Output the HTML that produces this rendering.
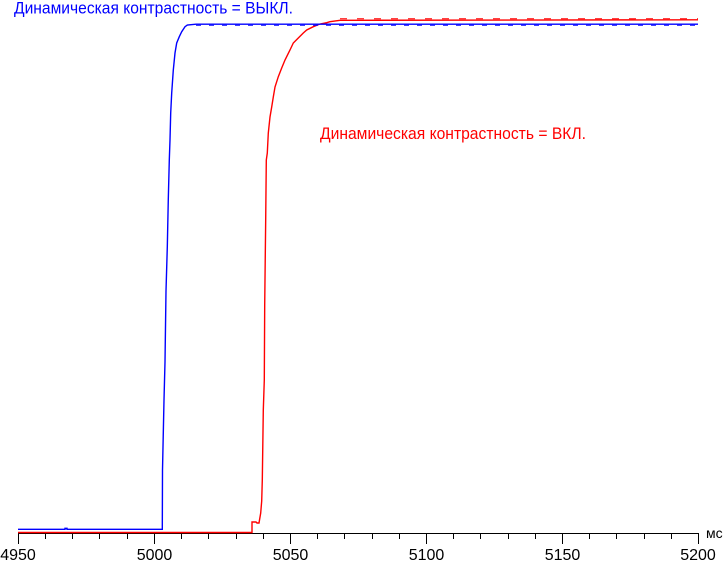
<!DOCTYPE html>
<html><head><meta charset="utf-8"><style>
html,body{margin:0;padding:0;background:#fff;}
svg{display:block;}
text{font-family:"Liberation Sans",Arial,sans-serif;}
</style></head><body>
<svg width="725" height="561" viewBox="0 0 725 561" xmlns="http://www.w3.org/2000/svg">
<rect width="725" height="561" fill="#fff"/>
<!-- axis -->
<g stroke="#000" stroke-width="1" fill="none" shape-rendering="crispEdges">
<line x1="18" y1="533.5" x2="699" y2="533.5"/>
<path d="M18.5,533V544M154.5,533V544M290.5,533V544M426.5,533V544M562.5,533V544M698.5,533V544"/>
<path d="M45.5,533V539M72.5,533V539M99.5,533V539M127.5,533V539M181.5,533V539M208.5,533V539M236.5,533V539M263.5,533V539M317.5,533V539M344.5,533V539M372.5,533V539M399.5,533V539M453.5,533V539M480.5,533V539M508.5,533V539M535.5,533V539M589.5,533V539M616.5,533V539M644.5,533V539M671.5,533V539"/>
</g>
<g font-size="16" fill="#000" text-anchor="middle">
<text x="18" y="560">4950</text>
<text x="154.5" y="560">5000</text>
<text x="290.5" y="560">5050</text>
<text x="426.5" y="560">5100</text>
<text x="562.5" y="560">5150</text>
<text x="698" y="560">5200</text>
</g>
<text x="706" y="538" font-size="14" fill="#000">мс</text>

<!-- red series -->
<g fill="none" stroke="#ff0000" stroke-width="1.4">
<path d="M18,532.5 H252 V522 H256 L257,523 H259 L260.7,513 L261.7,501 L262.3,480 L263.3,410 L264.3,380 L264.7,305 L265.7,219 L266.3,160 L267.3,153 L268.3,133 L270,117 L271.7,107 L273.3,97 L275,87 L278.3,76.7 L281.7,68 L285,60 L290,50 L293.3,43 L298.3,38 L303.3,33 L306.7,30 L313.3,26.7 L320,24 L326.7,22.7 L330,21.7 L340,20.3 L698,19.8"/>
<line x1="340" y1="18.8" x2="698" y2="18.8" stroke-width="1" stroke-dasharray="7 10"/>
</g>
<!-- blue series -->
<g fill="none" stroke="#0000ff" stroke-width="1.4">
<path d="M18,529.3 H65 V528.3 H67 V529.3 H162.3 L162.5,470 L164,400 L165,362 L166,291 L167.3,247 L168.3,199 L169.3,160 L170,140 L170.7,113 L171.7,93 L173.3,70 L175,53 L176.7,43 L179.3,36.7 L181.7,31.7 L185,26.7 L187.3,25 L196,24.2 L698,24.2"/>
<line x1="196" y1="25.2" x2="698" y2="25.2" stroke-width="1" stroke-dasharray="5 8"/>
</g>

<text x="14" y="13.5" font-size="17" fill="#0000ff" textLength="279" lengthAdjust="spacingAndGlyphs">Динамическая контрастность = ВЫКЛ.</text>
<text x="320" y="139" font-size="17" fill="#ff0000" textLength="266" lengthAdjust="spacingAndGlyphs">Динамическая контрастность = ВКЛ.</text>
</svg>
</body></html>
